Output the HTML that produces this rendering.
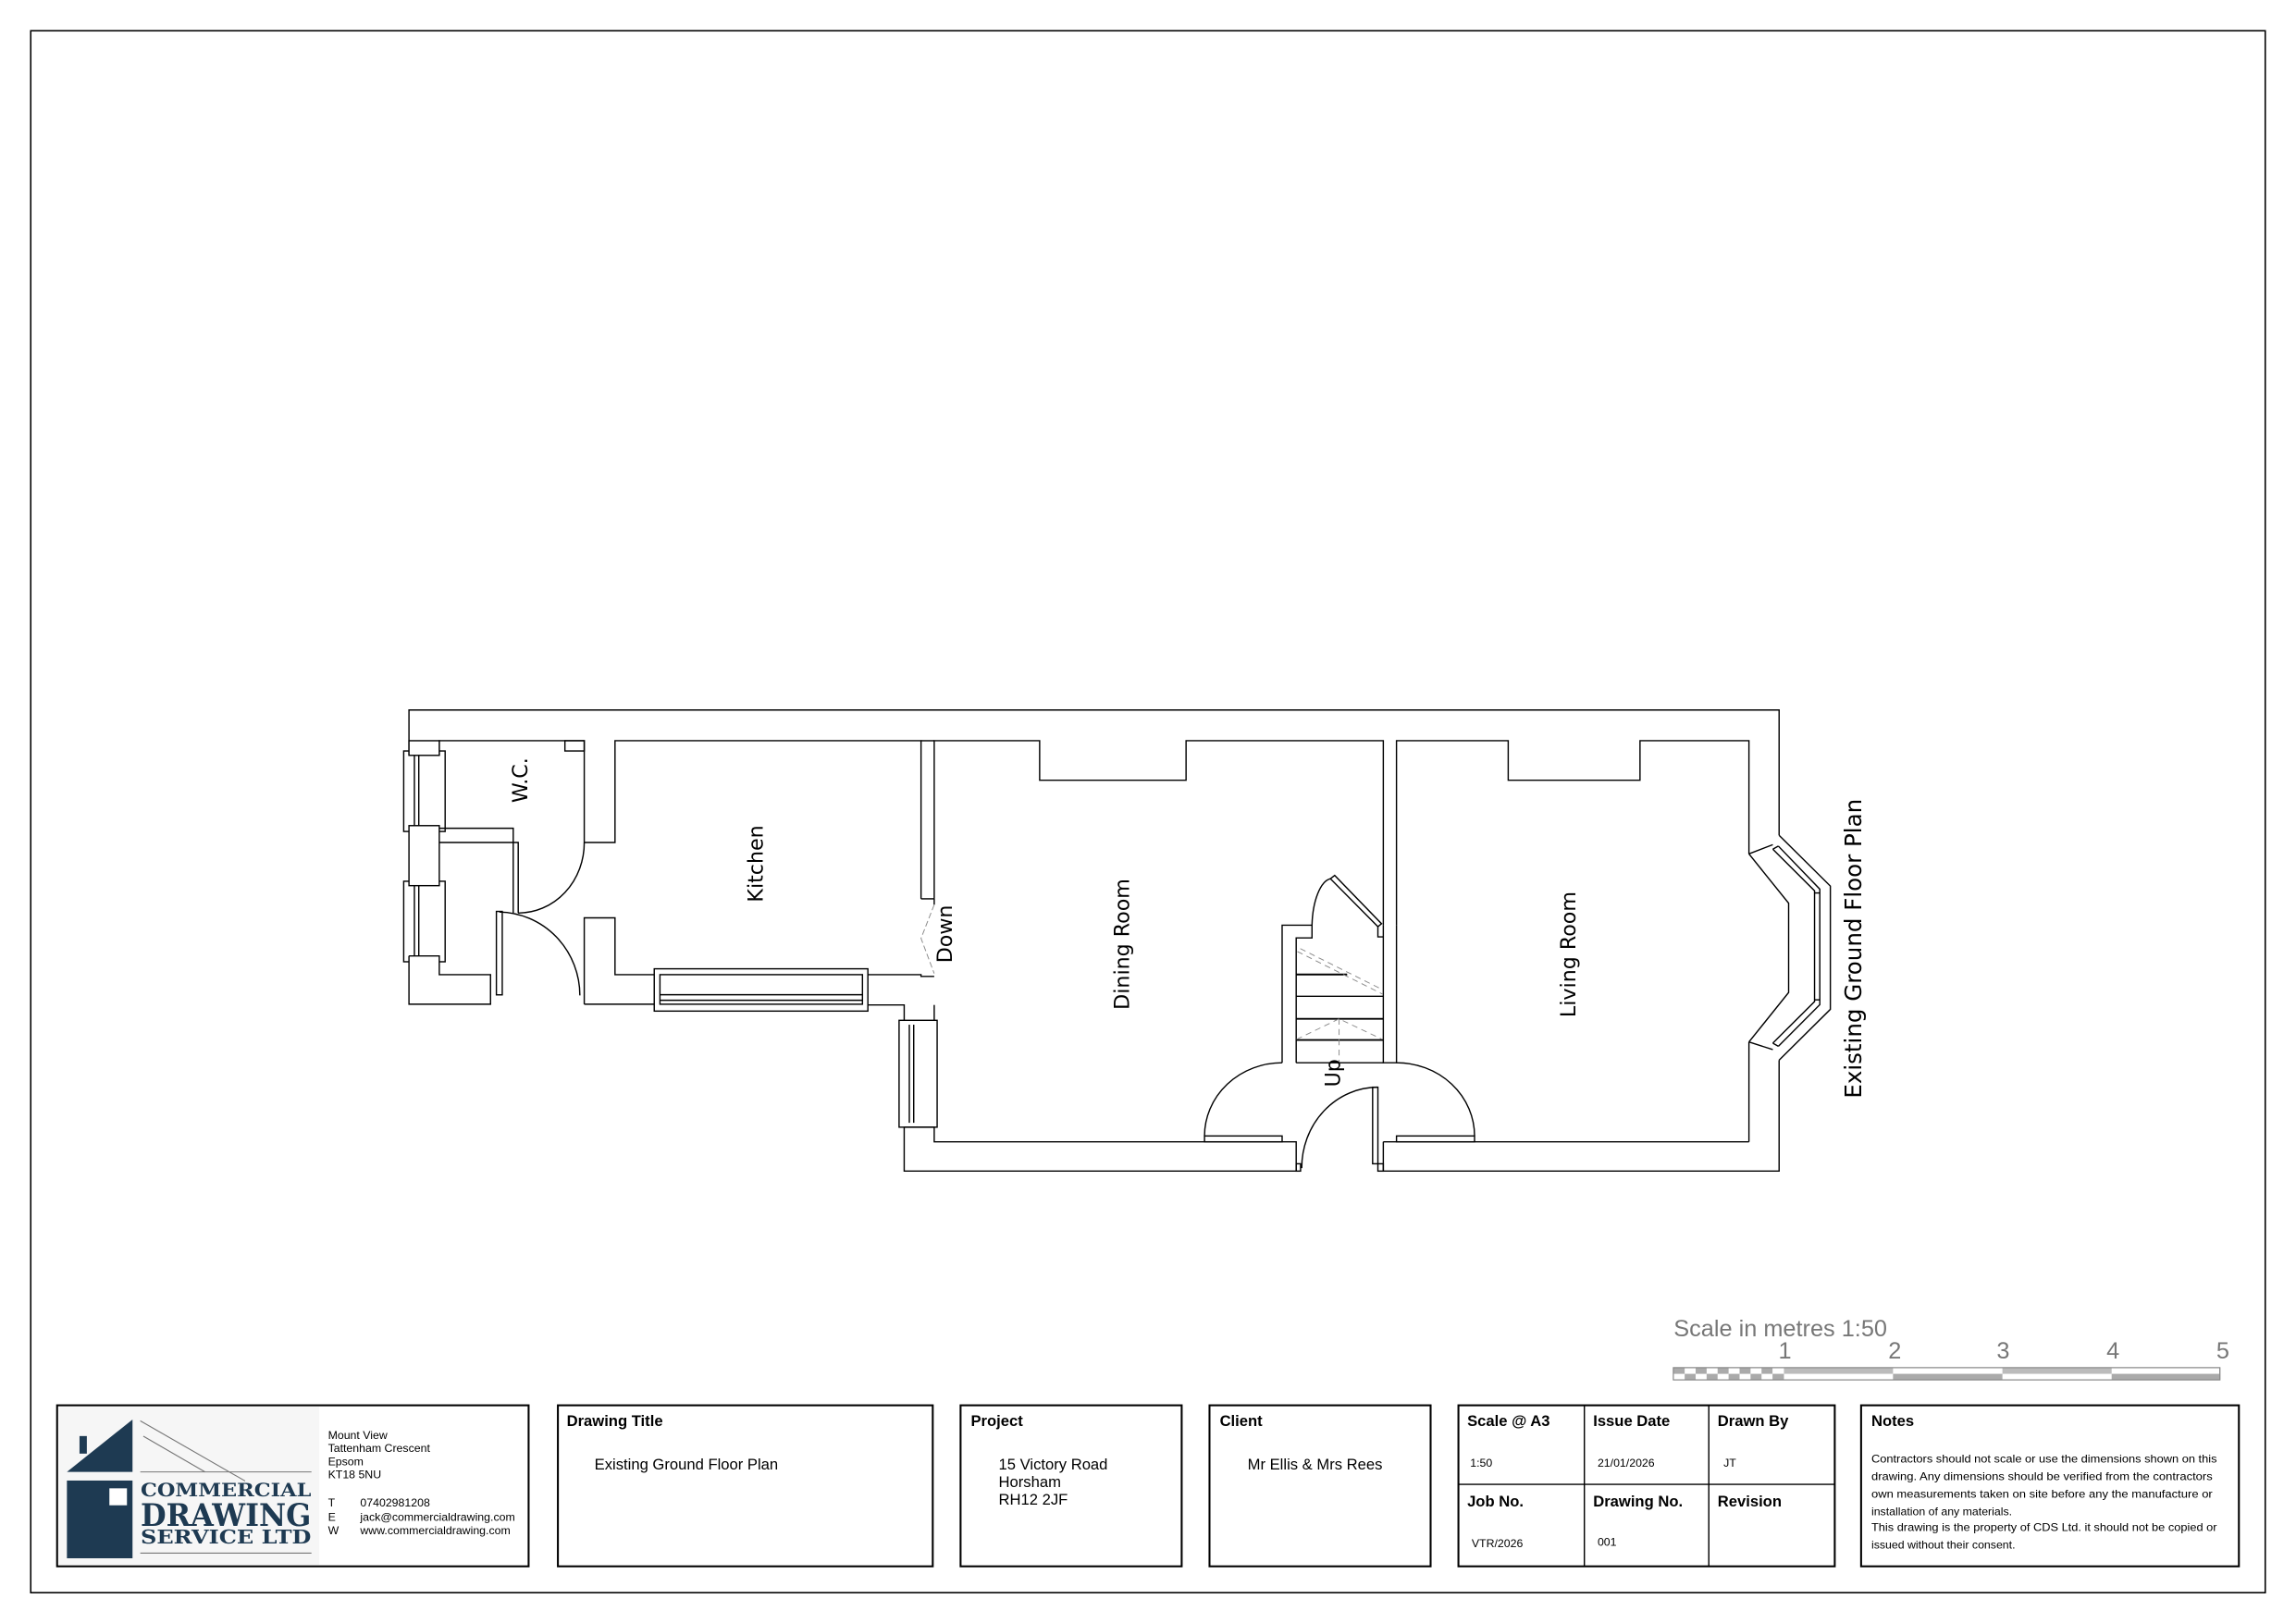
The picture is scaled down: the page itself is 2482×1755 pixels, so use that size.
<!DOCTYPE html>
<html><head><meta charset="utf-8"><style>
html,body{margin:0;padding:0;background:#fff;}
svg{display:block;font-family:"DejaVu Sans","Liberation Sans",sans-serif;}
.t text{font-family:"Liberation Sans Narrow","Liberation Sans",sans-serif;}
.serif text{font-family:"DejaVu Serif","Liberation Serif",serif;}
</style></head><body>
<svg width="2482" height="1755" viewBox="0 0 1568 1108.7" xmlns="http://www.w3.org/2000/svg">
<rect x="21" y="21" width="1526" height="1067" fill="none" stroke="#000" stroke-width="1"/>
<g fill="none" stroke="#000" stroke-width="0.9" stroke-linejoin="miter">
<polyline points="279.3,516 279.3,485 1215,485 1215,570.6"/>
<polyline points="1215,724.2 1215,800 944.7,800 944.7,780"/>
<polyline points="300,516 300,506 399,506 399,575.5 420,575.5 420,506 629,506 629,614" />
<rect x="385.8" y="506" width="13.2" height="7" />
<line x1="629" y1="506" x2="638" y2="506"/>
<polyline points="638,614 638,506 710,506 710,533 810,533 810,506 944.7,506 944.7,632"/>
<polyline points="953.7,632 953.7,506 1030,506 1030,533 1120,533 1120,506 1194.4,506 1194.4,583.3"/>
<rect x="275.7" y="513" width="28.3" height="55" />
<rect x="275.7" y="602" width="28.3" height="55" />
<line x1="283" y1="516" x2="283" y2="564" /><line x1="286" y1="516" x2="286" y2="564"/>
<line x1="283" y1="605" x2="283" y2="653" /><line x1="286" y1="605" x2="286" y2="653"/>
<rect x="279.3" y="506" width="20.7" height="10" fill="#fff"/>
<rect x="279.3" y="564" width="20.7" height="41" fill="#fff"/>
<polyline points="279.3,653 300,653 300,665.8 335,665.8 335,686 279.3,686 279.3,653" fill="#fff"/>
<polyline points="300,565.8 350.5,565.8 350.5,623.7"/>
<polyline points="300,575.5 353.9,575.5 353.9,623.7"/>
<path d="M399,575.5 A45,48 0 0 1 353.9,623.7"/>
<rect x="339" y="622.6" width="4" height="57" />
<path d="M341,623 A56,57 0 0 1 396,680"/>
<polyline points="399,686 399,627 420,627 420,665.8 446.8,665.8"/>
<line x1="399" y1="686" x2="446.8" y2="686"/>
<rect x="446.8" y="661.8" width="145.9" height="28.9"/>
<rect x="450.7" y="665.8" width="138.3" height="20.2" fill="#fff"/>
<line x1="450.7" y1="679.5" x2="589" y2="679.5"/><line x1="450.7" y1="683.3" x2="589" y2="683.3"/>
<polyline points="592.7,665.8 629,665.8 629,667 638,667"/>
<polyline points="592.7,686.5 617.5,686.5 617.5,697"/>
<line x1="629" y1="614" x2="638" y2="614"/>
<line x1="638" y1="614" x2="638" y2="618"/>
<g stroke="#888" stroke-width="0.6" stroke-dasharray="4,2"><polyline points="638,618 629,641 638,665"/></g>
<rect x="614" y="697" width="26" height="73"/>
<line x1="621" y1="700" x2="621" y2="767"/><line x1="624" y1="700" x2="624" y2="767"/>
<polyline points="617.5,770 638,770 638,780 885.2,780 885.2,800 617.5,800 617.5,770" fill="#fff"/>
<line x1="638" y1="686.5" x2="638" y2="697"/>
<polyline points="875.6,726 875.6,632 896,632 896,640.7 885.2,640.7 885.2,726"/>
<path d="M896,632 A14,34 0 0 1 908.6,600.3"/>
<polygon points="908.6,600.3 911.5,598 943.5,631 941,633"/>
<polyline points="941,633 941,640 944.7,640"/>
<polyline points="944.7,632 944.7,726 953.7,726 953.7,632"/>
<line x1="885.2" y1="665.7" x2="920" y2="665.7" stroke-width="1.2"/>
<line x1="885.2" y1="680.6" x2="944.7" y2="680.6"/>
<line x1="885.2" y1="696" x2="944.7" y2="696" stroke-width="1.2"/>
<line x1="885.2" y1="710.4" x2="944.7" y2="710.4" stroke-width="1.2"/>
<line x1="885.2" y1="726" x2="944.7" y2="726"/>
<g stroke="#888" stroke-width="0.6" stroke-dasharray="4,3">
<line x1="886" y1="650" x2="944" y2="679"/><line x1="888" y1="648" x2="944" y2="676"/>
<polyline points="885.5,710 914.5,696 944,710"/><line x1="914.5" y1="696" x2="914.5" y2="728"/>
</g>
<path d="M875.6,726 A53,50 0 0 0 822.6,776"/>
<rect x="822.6" y="776" width="53" height="4"/>
<path d="M953.7,726 A53,50 0 0 1 1007,776"/>
<rect x="953.7" y="776" width="53.3" height="4"/>
<rect x="937.4" y="742.7" width="3.6" height="52.3"/>
<path d="M941,742.7 A52,55 0 0 0 889,798"/>
<rect x="885.2" y="795" width="3" height="5"/>
<rect x="941" y="795" width="3.7" height="5"/>
<line x1="944.7" y1="780" x2="1194.4" y2="780"/>
<line x1="1194.4" y1="780" x2="1194.4" y2="711.8"/>
<polyline points="1194.4,583.3 1221.5,617 1221.5,678 1194.4,711.8"/>
<line x1="1194.4" y1="583.3" x2="1210.7" y2="577"/>
<line x1="1194.4" y1="711.8" x2="1210.7" y2="717"/>
<polyline points="1215,570.6 1250,605.3 1250,689.5 1215,724.2"/>
<polyline points="1210.7,580.1 1239.2,608.5 1239.2,684.2 1210.7,712.6"/>
<polyline points="1214.5,578 1242.8,607.4 1242.8,686.3 1214.5,714.7"/>
<line x1="1210.7" y1="580.1" x2="1214.5" y2="578"/><line x1="1210.7" y1="712.6" x2="1214.5" y2="714.7"/>
<line x1="1239.2" y1="610" x2="1242.8" y2="610"/><line x1="1239.2" y1="683" x2="1242.8" y2="683"/>
</g>
<g font-size="14" fill="#000">
<text transform="translate(360,533) rotate(-90)" text-anchor="middle">W.C.</text>
<text transform="translate(521,590) rotate(-90)" text-anchor="middle">Kitchen</text>
<text transform="translate(650,638) rotate(-90)" text-anchor="middle">Down</text>
<text transform="translate(771,645) rotate(-90)" text-anchor="middle">Dining Room</text>
<text transform="translate(915,733) rotate(-90)" text-anchor="middle">Up</text>
<text transform="translate(1076,652) rotate(-90)" text-anchor="middle">Living Room</text>
<text transform="translate(1271,648) rotate(-90)" text-anchor="middle" font-size="15.5">Existing Ground Floor Plan</text>
</g>
<g class="t" fill="#777">
<text x="1143" y="913" font-size="16">Scale in metres 1:50</text>
<g font-size="16" text-anchor="middle"><text x="1219" y="928">1</text><text x="1294" y="928">2</text><text x="1368" y="928">3</text><text x="1443" y="928">4</text><text x="1518" y="928">5</text></g>
</g>
<g stroke="#888" stroke-width="0.7">
<rect x="1142.8" y="934.3" width="373.2" height="8.3" fill="#fff"/>
<rect x="1218.3" y="934.5" width="74.5" height="4" fill="#bbb" stroke="none"/>
<rect x="1292.8" y="938.5" width="74.7" height="4" fill="#aaa" stroke="none"/>
<rect x="1367.5" y="934.5" width="74.6" height="4" fill="#bbb" stroke="none"/>
<rect x="1442.1" y="938.5" width="73.9" height="4" fill="#aaa" stroke="none"/>
<g fill="#aaa" stroke="none">
<rect x="1143" y="934.5" width="7.5" height="4"/><rect x="1158" y="934.5" width="7.5" height="4"/><rect x="1173" y="934.5" width="7.5" height="4"/><rect x="1188" y="934.5" width="7.5" height="4"/><rect x="1203" y="934.5" width="7.5" height="4"/>
<rect x="1150.5" y="938.5" width="7.5" height="4"/><rect x="1165.5" y="938.5" width="7.5" height="4"/><rect x="1180.5" y="938.5" width="7.5" height="4"/><rect x="1195.5" y="938.5" width="7.5" height="4"/><rect x="1210.5" y="938.5" width="7.8" height="4"/>
</g>
<rect x="1142.8" y="934.3" width="373.2" height="8.3" fill="none"/>
</g>
<g fill="none" stroke="#000" stroke-width="1.3">
<rect x="39" y="960" width="322" height="110"/>
<rect x="381" y="960" width="256" height="110"/>
<rect x="656" y="960" width="151" height="110"/>
<rect x="826" y="960" width="151" height="110"/>
<rect x="996" y="960" width="257" height="110"/>
<line x1="996" y1="1014" x2="1253" y2="1014" stroke-width="0.9"/>
<line x1="1082" y1="960" x2="1082" y2="1070" stroke-width="0.9"/>
<line x1="1167" y1="960" x2="1167" y2="1070" stroke-width="0.9"/>
<rect x="1271" y="960" width="258" height="110"/>
</g>
<rect x="40" y="961" width="178" height="108" fill="#f6f6f6"/>
<g fill="#1e3a52">
<polygon points="45.7,1005.5 90.5,969.7 90.5,1005.5"/>
<rect x="54.3" y="981" width="5" height="12"/>
<rect x="45.7" y="1011.4" width="44.8" height="53.1"/>
</g>
<rect x="74.7" y="1016.7" width="12" height="11.6" fill="#fff"/>
<g stroke="#777" stroke-width="0.7"><line x1="95.8" y1="1005.5" x2="212.7" y2="1005.5"/><line x1="95.8" y1="1061" x2="212.7" y2="1061"/>
<line x1="95.8" y1="970.6" x2="167.4" y2="1011.7"/><line x1="97.9" y1="981.1" x2="140" y2="1005.5"/></g>
<g class="serif" fill="#1e3a52" font-weight="bold">
<text x="96" y="1022.3" font-size="12.5" textLength="116.5" lengthAdjust="spacingAndGlyphs">COMMERCIAL</text>
<text x="96" y="1042.4" font-size="21" textLength="116.5" lengthAdjust="spacingAndGlyphs">DRAWING</text>
<text x="96" y="1054.4" font-size="13" textLength="116.5" lengthAdjust="spacingAndGlyphs">SERVICE LTD</text>
</g>
<g class="t" font-size="7.8" fill="#000">
<text x="224" y="983">Mount View</text>
<text x="224" y="992">Tattenham Crescent</text>
<text x="224" y="1001">Epsom</text>
<text x="224" y="1010">KT18 5NU</text>
<text x="224" y="1029">T</text><text x="246" y="1029">07402981208</text>
<text x="224" y="1039">E</text><text x="246" y="1039">jack@commercialdrawing.com</text>
<text x="224" y="1048">W</text><text x="246" y="1048">www.commercialdrawing.com</text>
</g>
<g class="t" fill="#000">
<g font-size="10.5" font-weight="bold">
<text x="387" y="974">Drawing Title</text>
<text x="663" y="974">Project</text>
<text x="833" y="974">Client</text>
<text x="1002" y="974">Scale @ A3</text>
<text x="1088" y="974">Issue Date</text>
<text x="1173" y="974">Drawn By</text>
<text x="1002" y="1029">Job No.</text>
<text x="1088" y="1029">Drawing No.</text>
<text x="1173" y="1029">Revision</text>
<text x="1278" y="974">Notes</text>
</g>
<g font-size="10.5">
<text x="406" y="1004">Existing Ground Floor Plan</text>
<text x="682" y="1004">15 Victory Road</text>
<text x="682" y="1016">Horsham</text>
<text x="682" y="1028">RH12 2JF</text>
<text x="852" y="1004">Mr Ellis &amp; Mrs Rees</text>
</g>
<g font-size="7.8">
<text x="1004" y="1002">1:50</text>
<text x="1091" y="1002">21/01/2026</text>
<text x="1177" y="1002">JT</text>
<text x="1005" y="1057">VTR/2026</text>
<text x="1091" y="1056">001</text>
<text x="1278" y="999" textLength="236" lengthAdjust="spacingAndGlyphs">Contractors should not scale or use the dimensions shown on this</text>
<text x="1278" y="1011" textLength="233" lengthAdjust="spacingAndGlyphs">drawing. Any dimensions should be verified from the contractors</text>
<text x="1278" y="1023" textLength="233" lengthAdjust="spacingAndGlyphs">own measurements taken on site before any the manufacture or</text>
<text x="1278" y="1035">installation of any materials.</text>
<text x="1278" y="1046" textLength="236" lengthAdjust="spacingAndGlyphs">This drawing is the property of CDS Ltd. it should not be copied or</text>
<text x="1278" y="1058">issued without their consent.</text>
</g>
</g>
</svg>
</body></html>
